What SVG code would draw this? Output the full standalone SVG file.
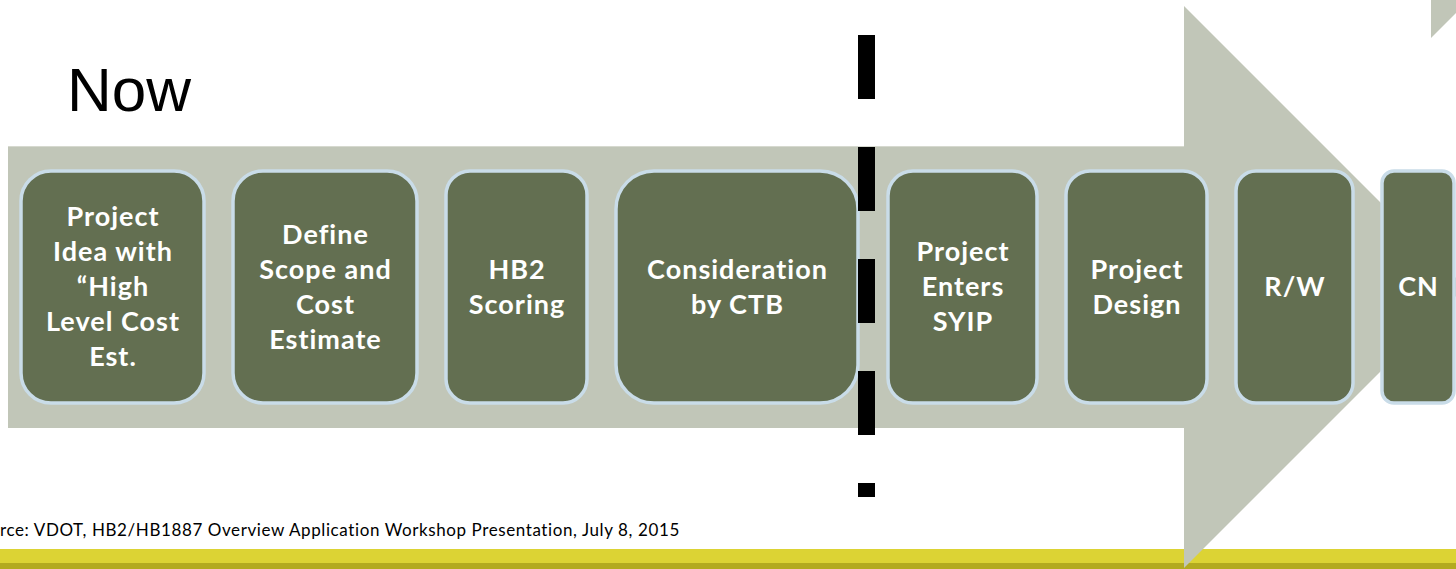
<svg xmlns="http://www.w3.org/2000/svg" width="1456" height="569" viewBox="0 0 1456 569">
<style>
.box{fill:#636f51;stroke:#c9dce8;stroke-width:3.5}
.lbl{font-family:Lato,"Liberation Sans",sans-serif;font-weight:bold;font-size:27px;letter-spacing:1px;fill:#ffffff;text-anchor:middle}
.arrow{fill:#c1c6b8}
</style>
<rect x="0" y="0" width="1456" height="569" fill="#ffffff"/>
<g id="band">
<rect x="0" y="549" width="1456" height="14" fill="#dcd334"/>
<rect x="0" y="563" width="1456" height="6" fill="#b3aa1f"/>
</g>
<g id="arrow">
<polygon class="arrow" points="8,146 1184,146 1184,6 1465,287 1184,568 1184,428 8,428"/>
<line x1="8" y1="146.5" x2="1184" y2="146.5" stroke="#d6d9cf" stroke-width="1"/>
<polygon class="arrow" points="1431,0 1456,0 1456,13 1431,38"/>
</g>
<text id="now" x="67" y="111" font-family="Liberation Sans, sans-serif" font-size="62" fill="#000">Now</text>
<g id="n1"><rect class="box" x="21" y="171" width="183" height="232" rx="30"/>
<text class="lbl" x="113" y="226">Project</text><text class="lbl" x="113" y="261">Idea with</text><text class="lbl" x="113" y="296">“High</text><text class="lbl" x="113" y="331">Level Cost</text><text class="lbl" x="113" y="366">Est.</text></g>
<g id="n2"><rect class="box" x="233" y="171" width="184" height="232" rx="30"/>
<text class="lbl" x="325.5" y="243.5">Define</text><text class="lbl" x="325.5" y="278.5">Scope and</text><text class="lbl" x="325.5" y="313.5">Cost</text><text class="lbl" x="325.5" y="348.5">Estimate</text></g>
<g id="n3"><rect class="box" x="446" y="171" width="141" height="232" rx="24"/>
<text class="lbl" x="517" y="278.5">HB2</text><text class="lbl" x="517" y="313.5">Scoring</text></g>
<g id="n4"><rect class="box" x="616" y="171" width="242" height="232" rx="38"/>
<text class="lbl" x="737.5" y="278.5">Consideration</text><text class="lbl" x="737.5" y="313.5">by CTB</text></g>
<g id="n5"><rect class="box" x="888" y="171" width="149" height="232" rx="25"/>
<text class="lbl" x="963" y="261">Project</text><text class="lbl" x="963" y="296">Enters</text><text class="lbl" x="963" y="331">SYIP</text></g>
<g id="n6"><rect class="box" x="1066" y="171" width="141" height="232" rx="24"/>
<text class="lbl" x="1137" y="278.5">Project</text><text class="lbl" x="1137" y="313.5">Design</text></g>
<g id="n7"><rect class="box" x="1236" y="171" width="117" height="232" rx="20"/>
<text class="lbl" x="1295" y="296">R/W</text></g>
<g id="n8"><rect class="box" x="1382" y="171" width="72" height="232" rx="12"/>
<text class="lbl" x="1418.5" y="296">CN</text></g>
<g id="connectors">
<line x1="866.5" y1="35" x2="866.5" y2="497" stroke="#000" stroke-width="17" stroke-dasharray="64 48"/>
</g>
<text id="source" x="0" y="536" font-family="Lato, 'Liberation Sans', sans-serif" font-size="17" letter-spacing="0.6" fill="#000">rce: VDOT, HB2/HB1887 Overview Application Workshop Presentation, July 8, 2015</text>
</svg>
